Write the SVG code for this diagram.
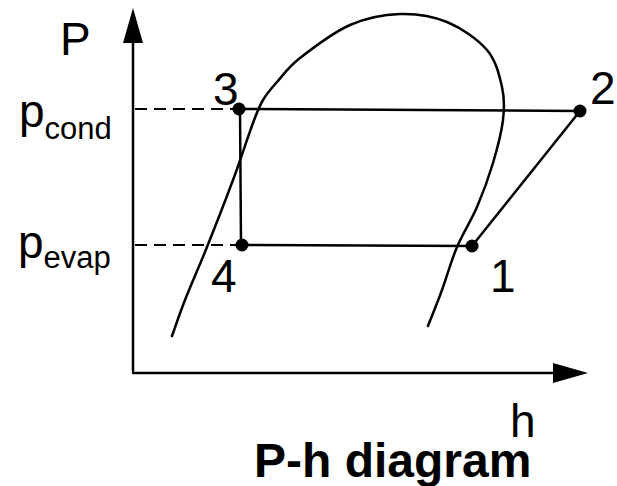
<svg xmlns="http://www.w3.org/2000/svg" width="617" height="486" viewBox="0 0 617 486">
  <style>
    .ln { stroke: #000; stroke-width: 2.5; fill: none; stroke-linecap: round; }
    .dash { stroke: #000; stroke-width: 2; fill: none; stroke-dasharray: 12 7; }
    .t { font-family: "Liberation Sans", Arial, sans-serif; fill: #000; }
    .big { font-size: 46px; }
    .sub { font-size: 31px; }
    .title { font-size: 48px; font-weight: bold; }
    .dot { fill: #000; }
  </style>
  <rect width="617" height="486" fill="#fff"/>
  <g id="axes">
    <line class="ln" x1="133" y1="40" x2="133" y2="371"/>
    <polygon points="133,8 123,43 143,43" fill="#000"/>
    <line class="ln" x1="133" y1="373" x2="556" y2="373"/>
    <polygon points="588,373 553,363 553,383" fill="#000"/>
    <text class="t big" x="60" y="55">P</text>
    <text class="t big" x="510" y="437">h</text>
  </g>
  <g id="dome">
    <path class="ln" d="M172,336 C174.2,330 179.2,314.8 185,300 C190.8,285.2 199,267 207,247 C215,227 225.3,200.7 233,180 C240.7,159.3 248,136.3 253,123 C258,109.7 259,106.8 263,100 C267,93.2 270.8,89 277,82 C283.2,75 287.8,67.5 300,58 C312.2,48.5 333.3,32.3 350,25 C366.7,17.7 383.8,14.5 400,14 C416.2,13.5 432.5,16 447,22 C461.5,28 477.8,39.2 487,50 C496.2,60.8 499.3,75.3 502,87 C504.7,98.7 504.5,107.3 503,120 C501.5,132.7 497.3,148.5 493,163 C488.7,177.5 483,193 477,207 C471,221 462.8,233.2 457,247 C451.2,260.8 446.8,276.8 442,290 C437.2,303.2 430.3,320 428,326"/>
  </g>
  <g id="pressure-levels">
    <line class="dash" x1="135" y1="109" x2="239" y2="109"/>
    <line class="dash" x1="135" y1="245" x2="242" y2="245"/>
    <text class="t big" x="19" y="127">p<tspan class="sub" y="139">cond</tspan></text>
    <text class="t big" x="18" y="258">p<tspan class="sub" y="268">evap</tspan></text>
  </g>
  <g id="connectors">
    <line class="ln" x1="239" y1="109" x2="580" y2="111"/>
    <line class="ln" x1="580" y1="111" x2="472" y2="246"/>
    <line class="ln" x1="472" y1="246" x2="242" y2="245"/>
    <line class="ln" x1="241" y1="245" x2="240" y2="109"/>
  </g>
  <g id="node-1">
    <circle class="dot" cx="472" cy="246" r="6.5"/>
    <text class="t big" x="490" y="292">1</text>
  </g>
  <g id="node-2">
    <circle class="dot" cx="580" cy="111" r="6.5"/>
    <text class="t big" x="590" y="104">2</text>
  </g>
  <g id="node-3">
    <circle class="dot" cx="239" cy="109" r="6.5"/>
    <text class="t big" x="213" y="105">3</text>
  </g>
  <g id="node-4">
    <circle class="dot" cx="242" cy="245" r="6.5"/>
    <text class="t big" x="211" y="292">4</text>
  </g>
  <g id="title">
    <text class="t title" x="254" y="477">P-h diagram</text>
  </g>
</svg>
